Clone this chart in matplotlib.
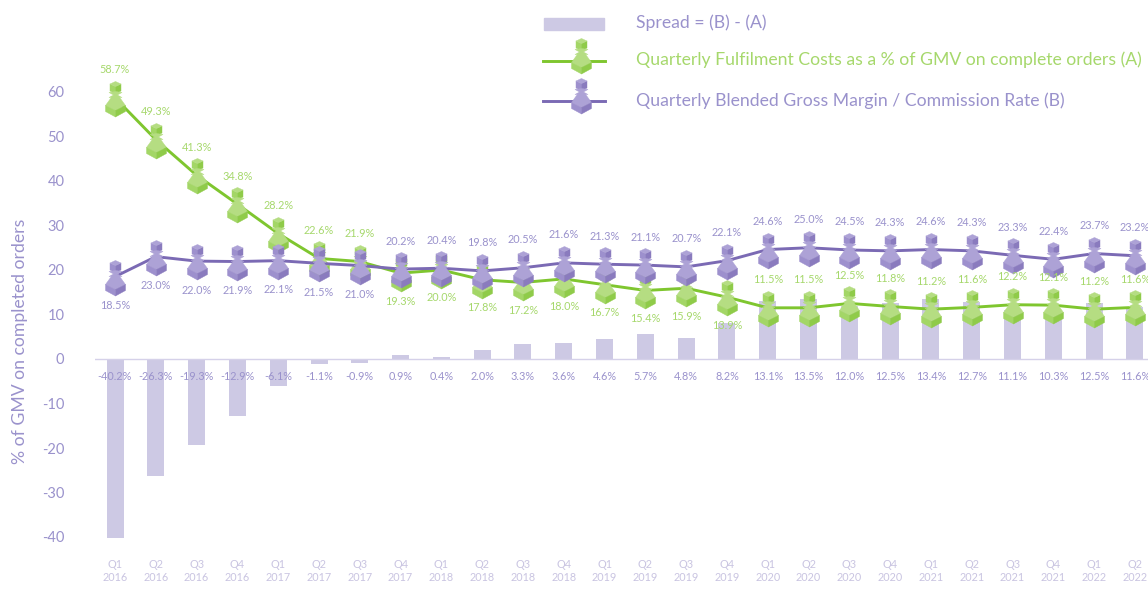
import matplotlib
matplotlib.use("Agg")
import matplotlib.pyplot as plt
from matplotlib.path import Path
from matplotlib.patches import Rectangle
from matplotlib.lines import Line2D

plt.rcParams['font.family'] = ['Lato', 'DejaVu Sans']

trimestres = ['Q1\n2016', 'Q2\n2016', 'Q3\n2016', 'Q4\n2016', 'Q1\n2017', 'Q2\n2017', 'Q3\n2017',
              'Q4\n2017', 'Q1\n2018', 'Q2\n2018', 'Q3\n2018', 'Q4\n2018', 'Q1\n2019', 'Q2\n2019',
              'Q3\n2019', 'Q4\n2019', 'Q1\n2020', 'Q2\n2020', 'Q3\n2020', 'Q4\n2020', 'Q1\n2021',
              'Q2\n2021', 'Q3\n2021', 'Q4\n2021', 'Q1\n2022', 'Q2\n2022']
custos = [58.7, 49.3, 41.3, 34.8, 28.2, 22.6, 21.9, 19.3, 20.0, 17.8, 17.2, 18.0, 16.7,
          15.4, 15.9, 13.9, 11.5, 11.5, 12.5, 11.8, 11.2, 11.6, 12.2, 12.1, 11.2, 11.6]
margem = [18.5, 23.0, 22.0, 21.9, 22.1, 21.5, 21.0, 20.2, 20.4, 19.8, 20.5, 21.6, 21.3,
          21.1, 20.7, 22.1, 24.6, 25.0, 24.5, 24.3, 24.6, 24.3, 23.3, 22.4, 23.7, 23.2]
spread = [-40.2, -26.3, -19.3, -12.9, -6.1, -1.1, -0.9, 0.9, 0.4, 2.0, 3.3, 3.6, 4.6,
          5.7, 4.8, 8.2, 13.1, 13.5, 12.0, 12.5, 13.4, 12.7, 11.1, 10.3, 12.5, 11.6]
yticks = [-40, -30, -20, -10, 0, 10, 20, 30, 40, 50, 60]

ROXO_TXT = '#9A92CC'
VERDE_TXT = '#A6D86C'
BARRA = '#CDC9E4'
TICK_X = '#C9C4E1'
VERDE = {'linha': '#7FC62F', 'claro': '#B5DD82', 'medio': '#A3D666', 'escuro': '#8FCB49'}
ROXO = {'linha': '#7B6AB4', 'claro': '#ADA2D6', 'medio': '#9D90CD', 'escuro': '#8A7BBE'}

W, H = 1148, 589
fig = plt.figure(figsize=(W / 100, H / 100), dpi=100)
ax = fig.add_axes([95 / W, (H - 555) / H, (W - 95) / W, 555 / H])
ax.set_xlim(-20 / 40.8, (W - 115) / 40.8)
ax.set_ylim((359 - 555) / 4.45, 359 / 4.45)

# partes do peao em pixels em volta do ponto (cabeca, gola, corpo, base)
PARTES = [
    ('medio', [(-5.5, 14.5), (0, 12), (0, 5), (-5.5, 7.5)]),
    ('escuro', [(5.5, 14.5), (0, 12), (0, 5), (5.5, 7.5)]),
    ('claro', [(-5.5, 14.5), (0, 17), (5.5, 14.5), (0, 12)]),
    ('claro', [(-6.5, 6), (-2, 3.5), (-6.5, 1), (6.5, 1), (2, 3.5), (6.5, 6), (0, 7)]),
    ('claro', [(-3.5, 2), (3.5, 2), (10, -7), (0, -12), (-10, -7)]),
    ('medio', [(-10, -7), (0, -12), (0, -18.5), (-10, -13)]),
    ('escuro', [(10, -7), (0, -12), (0, -18.5), (10, -13)]),
]


def marcador(pts):
    raio = max(max(abs(a), abs(b)) for a, b in pts)
    caminho = Path(pts + [pts[0]], closed=True)
    return caminho, 2 * raio * 0.72


def desenhar_peoes(alvo, xs, ys, cores, z, **kw):
    for cor, pts in PARTES:
        caminho, tam = marcador(pts)
        alvo.plot(xs, ys, ls='none', marker=caminho, ms=tam, mfc=cores[cor], mec=cores[cor], mew=0.3,
                  zorder=z, clip_on=False, **kw)


x = list(range(len(trimestres)))

ax.bar(x, spread, width=17 / 40.8, color=BARRA, zorder=1)
ax.axhline(0, color='#D5D1E9', lw=1, zorder=1.5)

ax.plot(x, custos, color=VERDE['linha'], lw=2.1, zorder=2, solid_joinstyle='round')
desenhar_peoes(ax, x, custos, VERDE, 3)
ax.plot(x, margem, color=ROXO['linha'], lw=2.1, zorder=4, solid_joinstyle='round')
desenhar_peoes(ax, x, margem, ROXO, 5)

# rotulos dos valores
for i in x:
    dy_a = 28 if (i < 7 or i >= 16) else -28
    dy_b = -29 if i < 7 else 28
    ax.annotate(f'{custos[i]:.1f}%', (i, custos[i]), xytext=(0, dy_a * 0.72), textcoords='offset points',
                ha='center', va='center', color=VERDE_TXT, fontsize=7.8, zorder=6)
    ax.annotate(f'{margem[i]:.1f}%', (i, margem[i]), xytext=(0, dy_b * 0.72), textcoords='offset points',
                ha='center', va='center', color=ROXO_TXT, fontsize=7.8, zorder=6)
    ax.annotate(f'{spread[i]:.1f}%', (i, 0), xytext=(0, -18 * 0.72), textcoords='offset points',
                ha='center', va='center', color=ROXO_TXT, fontsize=7.8, zorder=6)

ax.set_xticks(x)
ax.set_xticklabels(trimestres, color=TICK_X, fontsize=7.8, linespacing=1.15)
ax.set_yticks(yticks)
ax.set_yticklabels([str(v) for v in yticks], color=ROXO_TXT, fontsize=10.5)
ax.tick_params(axis='x', length=0, pad=3)
ax.tick_params(axis='y', length=0, pad=22)
for lado in ax.spines.values():
    lado.set_visible(False)
ax.patch.set_alpha(0)

fig.text(20 / W, (H - 341) / H, '% of GMV on completed orders', rotation=90, ha='center', va='center',
         color=ROXO_TXT, fontsize=12.7)

# legenda feita a mao, em pixels da figura
leg = fig.add_axes([0, 0, 1, 1])
leg.set_xlim(0, W)
leg.set_ylim(H, 0)
leg.axis('off')
leg.patch.set_alpha(0)
leg.add_patch(Rectangle((544, 18), 60, 12, color=BARRA))
leg.add_line(Line2D([543, 605], [61, 61], color=VERDE['linha'], lw=2.1))
desenhar_peoes(leg, [581], [55], VERDE, 3)
leg.add_line(Line2D([543, 605], [101, 101], color=ROXO['linha'], lw=2.1))
desenhar_peoes(leg, [581], [95], ROXO, 3)
textos = [('Spread = (B) - (A)', 23, ROXO_TXT),
          ('Quarterly Fulfilment Costs as a % of GMV on complete orders (A)', 60, VERDE_TXT),
          ('Quarterly Blended Gross Margin / Commission Rate (B)', 101, ROXO_TXT)]
for txt, py, cor in textos:
    leg.text(636, py, txt, color=cor, fontsize=12.7, va='center', ha='left')

fig.savefig('out.png', dpi=100)
